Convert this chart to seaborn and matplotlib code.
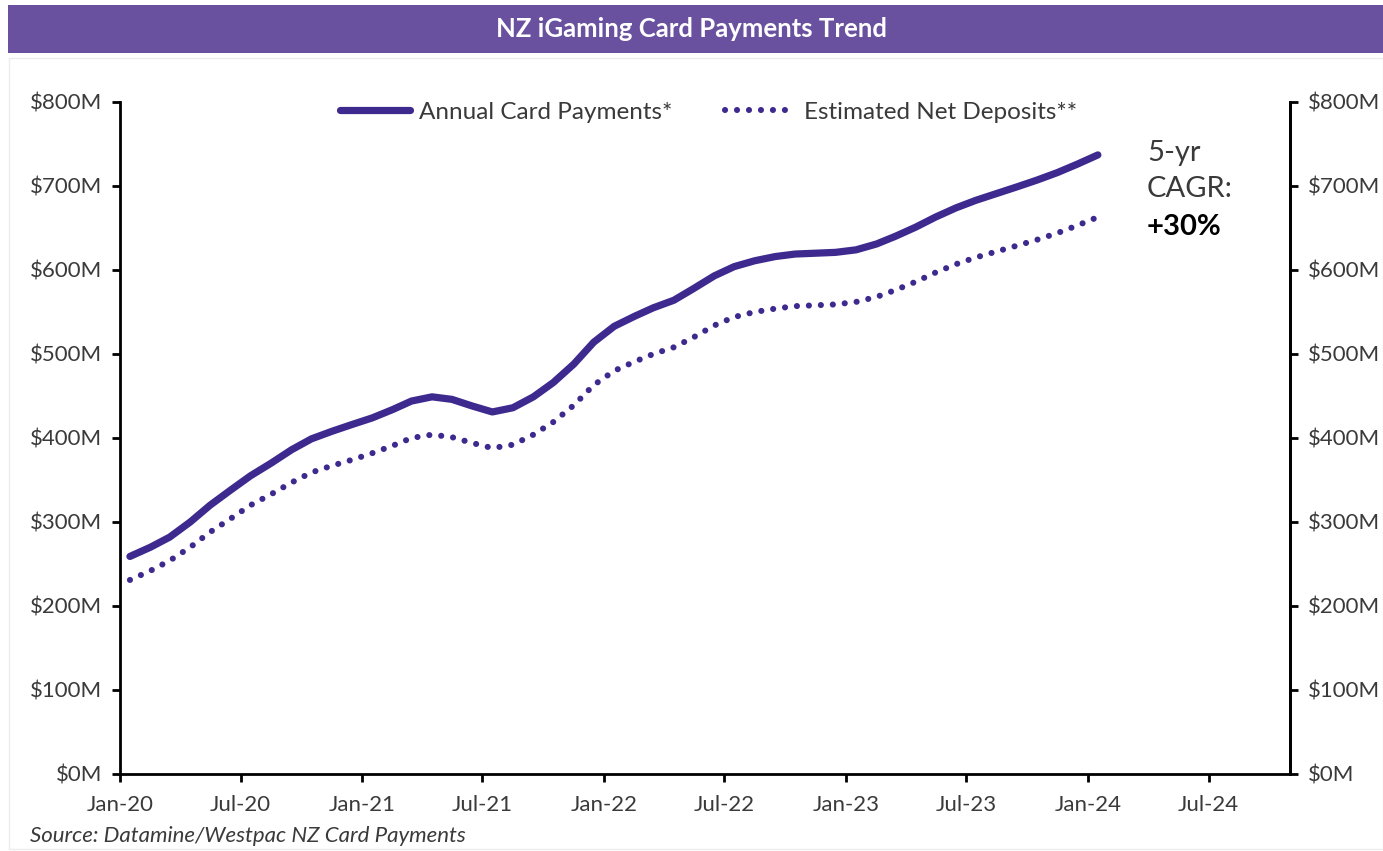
import matplotlib
matplotlib.use("Agg")
import matplotlib.pyplot as plt
import matplotlib.dates as mdates
from matplotlib.patches import Rectangle
import numpy as np
import pandas as pd
import seaborn as sns

# Monthly series, Jan-20 .. Jan-24 ($M, rolling annual totals)
months = pd.date_range("2020-01-01", "2024-01-01", freq="MS")
annual_card_payments = [
    259, 270, 282, 300, 320, 338, 355, 370, 386, 399, 408, 416,
    424, 434, 444, 449, 446, 438, 431, 436, 449, 466, 488, 514,
    533, 545, 555, 564, 578, 593, 604, 611, 616, 619, 620, 621,
    624, 631, 640, 651, 663, 674, 683, 691, 699, 707, 716, 726,
    737,
]
estimated_net_deposits = [
    231, 242, 254, 270, 288, 304, 320, 333, 347, 359, 367, 374,
    382, 391, 400, 404, 401, 394, 388, 392, 404, 419, 439, 463,
    480, 491, 500, 508, 520, 534, 544, 550, 554, 557, 558, 559,
    562, 568, 576, 586, 597, 607, 615, 622, 629, 636, 644, 653,
    663,
]
series_names = ["Annual Card Payments*", "Estimated Net Deposits**"]
y_ticks = [0, 100, 200, 300, 400, 500, 600, 700, 800]

title_text = "NZ iGaming Card Payments Trend"
source_text = "Source: Datamine/Westpac NZ Card Payments"
cagr_lines = ["5-yr", "CAGR:", "+30%"]

sns.set_theme(style="white")
plt.rcParams["font.family"] = ["Lato", "DejaVu Sans"]

LINE = "#3E2A8E"
BAR = "#6951A0"
TEXT = "#3A3A3A"
W, H = 1383, 851

# points sit mid-month between the monthly ticks
dates = months + pd.Timedelta(days=15)
df = pd.DataFrame({
    "date": np.concatenate([dates, dates]),
    "value": annual_card_payments + estimated_net_deposits,
    "series": [series_names[0]] * len(dates) + [series_names[1]] * len(dates),
})

fig = plt.figure(figsize=(W / 100, H / 100), dpi=100)
ax = fig.add_axes([120 / W, 1 - 774 / H, (1290 - 120) / W, (774 - 102) / H])

sns.lineplot(data=df[df.series == series_names[0]], x="date", y="value", ax=ax,
             color=LINE, linewidth=5.2, label=series_names[0],
             solid_capstyle="round", solid_joinstyle="round")
sns.lineplot(data=df[df.series == series_names[1]], x="date", y="value", ax=ax,
             color=LINE, linewidth=4.4, label=series_names[1],
             linestyle=(0, (0.01, 1.95)), dash_capstyle="round")

ax.set_xlim(pd.Timestamp("2020-01-01"), pd.Timestamp("2024-11-01"))
ax.set_ylim(0, 800)
ax.set_xlabel("")
ax.set_ylabel("")

ax.xaxis.set_major_locator(mdates.MonthLocator(bymonth=[1, 7]))
ax.xaxis.set_major_formatter(mdates.DateFormatter("%b-%y"))
ax.set_yticks(y_ticks)
ax.set_yticklabels([f"${v}M" for v in y_ticks])

ax.spines["top"].set_visible(False)
for side in ["left", "right", "bottom"]:
    ax.spines[side].set_color("black")
    ax.spines[side].set_linewidth(2)

ax.tick_params(axis="both", which="major", direction="out", length=6, width=2,
               color="black", labelcolor=TEXT, labelsize=16)
ax.tick_params(axis="x", pad=9, bottom=True)
ax.tick_params(axis="y", pad=7, left=True)

# mirrored value axis on the right
ax2 = ax.twinx()
ax2.set_ylim(0, 800)
ax2.set_yticks(y_ticks)
ax2.set_yticklabels([f"${v}M" for v in y_ticks])
for side in ["top", "left", "bottom"]:
    ax2.spines[side].set_visible(False)
ax2.spines["right"].set_color("black")
ax2.spines["right"].set_linewidth(2)
ax2.tick_params(axis="y", direction="out", length=6, width=2, color="black",
                labelcolor=TEXT, labelsize=16, pad=7, right=True)
ax2.grid(False)
ax.grid(False)

ax.legend(loc="center", bbox_to_anchor=(0.503, 1 - 10 / 672), ncol=2,
          frameon=False, fontsize=17.5, handlelength=2.9,
          handletextpad=0.35, columnspacing=2.2, labelcolor=TEXT)

# CAGR callout
cx = 1147 / W
fig.text(cx, 1 - 153 / H, cagr_lines[0], fontsize=21, color=TEXT,
         va="center", ha="left")
fig.text(cx, 1 - 189 / H, cagr_lines[1], fontsize=21, color=TEXT,
         va="center", ha="left")
fig.text(cx, 1 - 227 / H, cagr_lines[2], fontsize=21, color="black",
         fontweight="bold", va="center", ha="left")

# title banner
fig.patches.append(Rectangle((8 / W, 1 - 53 / H), 1 - 8 / W, 48 / H,
                             transform=fig.transFigure, facecolor=BAR,
                             edgecolor="none", zorder=0))
fig.text(0.5, 1 - 29 / H, title_text, ha="center", va="center",
         color="white", fontsize=18.5, fontweight="bold")

# faint frame around the chart body
fig.patches.append(Rectangle((9 / W, 2 / H), 1 - 9 / W, 1 - 60 / H,
                             transform=fig.transFigure, facecolor="none",
                             edgecolor="#ececec", linewidth=1, zorder=0))

fig.text(30 / W, 1 - 836 / H, source_text, ha="left", va="center",
         color=TEXT, fontsize=16, fontstyle="italic")

fig.savefig("out.png", dpi=100, facecolor="white")
